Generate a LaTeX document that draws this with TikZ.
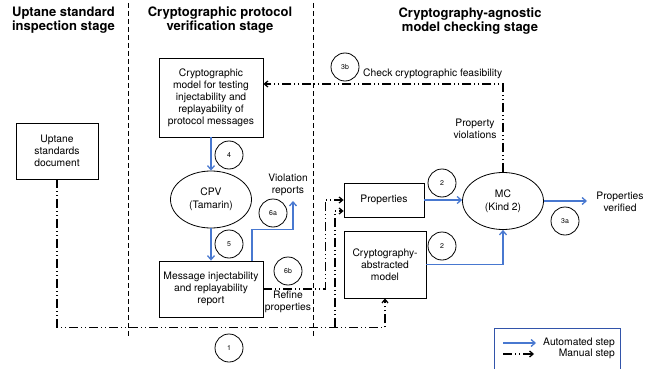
\documentclass[tikz,border=0pt]{standalone}
\usepackage{fontspec}
\setmainfont{TeX Gyre Heros}
\usetikzlibrary{arrows.meta,shapes.geometric}
\definecolor{autoblue}{RGB}{72,120,208}
\definecolor{legendblue}{RGB}{50,84,170}

\begin{document}
\begin{tikzpicture}[x=1pt,y=-1pt,
  box/.style={draw,line width=0.8pt,rectangle,inner sep=0pt,align=center,
    font=\fontsize{10.3}{12}\selectfont},
  oval/.style={draw,line width=0.8pt,ellipse,inner sep=0pt,minimum width=81pt,
    minimum height=57pt,align=center,font=\fontsize{10.3}{13}\selectfont},
  stepmark/.style={draw,circle,line width=0.8pt,minimum size=28pt,inner sep=0pt,
    font=\fontsize{7}{8}\selectfont},
  autoline/.style={draw=autoblue,line width=1.3pt,-{Straight Barb[length=4pt,width=7pt]}},
  manual/.style={line width=1.3pt,dash pattern=on 9pt off 3pt on 1pt off 3pt on 1pt off 3pt,
    -{Straight Barb[length=3.5pt,width=6pt]}},
  stageline/.style={line width=0.7pt,dash pattern=on 5pt off 3pt},
  title/.style={font=\bfseries\fontsize{13}{14}\selectfont,align=center},
  note/.style={font=\fontsize{10.3}{12}\selectfont,align=center,inner sep=0pt}]

\useasboundingbox (0,0) rectangle (661,369);

% stage headings and separators
\node[title] (t1) at (63.5,20) {Uptane standard\\inspection stage};
\node[title] (t2) at (220,20) {Cryptographic protocol\\verification stage};
\node[title] (t3) at (470,21) {Cryptography-agnostic\\model checking stage};
\draw[stageline] (128,3) -- (128,337);
\draw[stageline] (313,3) -- (313,337);

% artefacts and tools
\node[box,minimum width=104pt,minimum height=79pt] (cm) at (211,97.5)
  {Cryptographic\\model for testing\\injectability and\\replayability of\\protocol messages};
\node[box,minimum width=82pt,minimum height=56pt] (usd) at (57,151)
  {Uptane\\standards\\document};
\node[oval] (cpv) at (211,199.5) {CPV\\(Tamarin)};
\node[box,minimum width=104pt,minimum height=56pt] (rep) at (211,289)
  {Message injectability\\and replayability\\report};
\node[box,minimum width=80pt,minimum height=34pt] (prop) at (384,200) {Properties};
\node[box,minimum width=82pt,minimum height=67pt] (abs) at (385,264.5)
  {Cryptography-\\abstracted\\model};
\node[oval] (mc) at (503,201) {MC\\(Kind 2)};

% free ends and junctions
\coordinate (viol) at (293,201);
\coordinate (ver) at (587,201);
\coordinate (fork) at (335,327);

% automated steps
\draw[autoline] (cm) -- (cpv);
\draw[autoline] (cpv) -- (rep);
\draw[autoline] ([xshift=41pt]rep.north) -- ++(0,-31) -| (viol);
\draw[autoline] (prop.east) -- (prop.east -| mc.west);
\draw[autoline] (abs.east) -| (mc.south);
\draw[autoline] (mc.east) -- (ver);

% manual steps
\draw[manual] (rep.east) -- ++(62,0) |- (prop.west);
\draw[manual] (usd.south) -- ++(0,148) -| (abs.south);
\draw[manual] (fork) |- ([yshift=-11pt]prop.west);
\draw[manual] (mc.north) |- ([yshift=13.5pt]cm.east);

% annotations
\node[note] (pv) at (475,129) {Property\\violations};
\node[note] (vr) at (288,185) {Violation\\reports};
\node[note] (rp) at (288,301.5) {Refine\\properties};
\node[note,anchor=west] (ccf) at (363,74) {Check cryptographic feasibility};
\node[note] (pver) at (620,201.5) {Properties\\verified};

% step numbers
\node[stepmark] (s1) at (229,348) {1};
\node[stepmark] (s2a) at (442,183) {2};
\node[stepmark] (s2b) at (442,246) {2};
\node[stepmark] (s3a) at (565,221) {3a};
\node[stepmark] (s3b) at (345,67) {3b};
\node[stepmark] (s4) at (229,155) {4};
\node[stepmark] (s5) at (229,244) {5};
\node[stepmark] (s6a) at (273,213) {6a};
\node[stepmark] (s6b) at (288,271) {6b};

% legend
\draw[legendblue,line width=0.8pt] (494,372) -- (494,328) -- (620,328) -- (620,372);
\coordinate (la1) at (503,343);
\coordinate (la2) at (536,343);
\coordinate (lm1) at (503,354);
\coordinate (lm2) at (534,354);
\draw[autoline] (la1) -- (la2);
\draw[manual] (lm1) -- (lm2);
\node[note,anchor=east] (lat) at (615,343) {Automated step};
\node[note,anchor=east] (lmt) at (615,354) {Manual step};
\end{tikzpicture}
\end{document}
